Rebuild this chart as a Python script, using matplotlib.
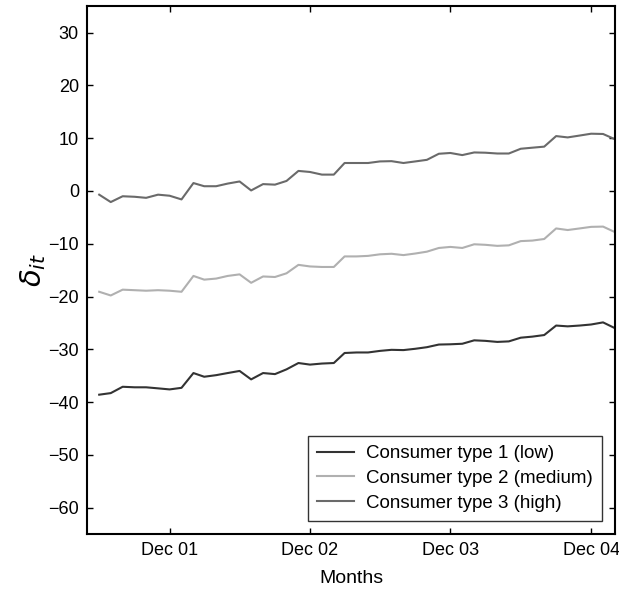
import numpy as np
import pandas as pd
import matplotlib
matplotlib.use('Agg')
import matplotlib.pyplot as plt
import matplotlib.dates as mdates

plt.rcParams['font.family'] = ['Liberation Sans', 'DejaVu Sans']
plt.rcParams['mathtext.fontset'] = 'dejavusans'

# monthly values, Jun 2001 -> Feb 2005
mois = pd.date_range('2001-06-01', periods=45, freq='MS')

type1 = [-38.6, -38.3, -37.1, -37.2, -37.2, -37.4, -37.6, -37.3, -34.5, -35.2,
         -34.9, -34.5, -34.1, -35.7, -34.5, -34.7, -33.8, -32.6, -32.9, -32.7,
         -32.6, -30.7, -30.6, -30.6, -30.3, -30.1, -30.15, -29.9, -29.6, -29.1,
         -29.05, -28.95, -28.3, -28.4, -28.6, -28.5, -27.8, -27.6, -27.3, -25.5,
         -25.65, -25.5, -25.3, -24.9, -26.0]
type2 = [-19.1, -19.8, -18.7, -18.8, -18.9, -18.8, -18.9, -19.1, -16.1, -16.8,
         -16.6, -16.1, -15.8, -17.4, -16.2, -16.3, -15.6, -14.0, -14.3, -14.4,
         -14.4, -12.4, -12.4, -12.3, -12.0, -11.9, -12.15, -11.85, -11.5, -10.8,
         -10.6, -10.8, -10.1, -10.2, -10.4, -10.3, -9.5, -9.4, -9.1, -7.1,
         -7.4, -7.1, -6.8, -6.75, -7.8]
type3 = [-0.7, -2.1, -1.0, -1.1, -1.3, -0.7, -0.9, -1.6, 1.5, 0.9,
         0.9, 1.4, 1.8, 0.1, 1.3, 1.2, 1.9, 3.8, 3.6, 3.1,
         3.1, 5.3, 5.3, 5.3, 5.6, 5.65, 5.3, 5.6, 5.9, 7.05,
         7.2, 6.8, 7.3, 7.25, 7.1, 7.1, 8.0, 8.2, 8.4, 10.4,
         10.15, 10.5, 10.85, 10.8, 9.8]
labels = ['Consumer type 1 (low)', 'Consumer type 2 (medium)', 'Consumer type 3 (high)']
couleurs = ['#333333', '#b0b0b0', '#6a6a6a']

fig = plt.figure(figsize=(6.19, 5.96), dpi=100)
ax = fig.add_axes([0.141, 0.104, 0.8525, 0.8855])

for serie, lab, c in zip([type1, type2, type3], labels, couleurs):
    ax.plot(mois, serie, color=c, lw=1.5, label=lab)

ax.set_xlim(pd.Timestamp('2001-05-01'), pd.Timestamp('2005-02-01'))
ax.set_ylim(-65, 35)
ax.set_yticks(np.arange(-60, 31, 10))
ax.set_xticks(pd.to_datetime(['2001-12-01', '2002-12-01', '2003-12-01', '2004-12-01']))
ax.xaxis.set_major_formatter(mdates.DateFormatter('%b %y'))
ax.tick_params(direction='in', length=4, width=1, top=True, right=True,
               labelsize=13, pad=6)
for sp in ax.spines.values():
    sp.set_linewidth(1.5)

ax.set_xlabel('Months', fontsize=14, labelpad=8)
ax.set_ylabel(r'$\delta_{it}$', fontsize=21, labelpad=0)

leg = ax.legend(loc='lower right', fontsize=13.5, frameon=True, fancybox=False,
                handlelength=2.0, handletextpad=0.6, borderaxespad=0.7,
                labelspacing=0.4, borderpad=0.5)
leg.get_frame().set_edgecolor('black')
leg.get_frame().set_linewidth(1.0)

fig.savefig('out.png', dpi=100)
